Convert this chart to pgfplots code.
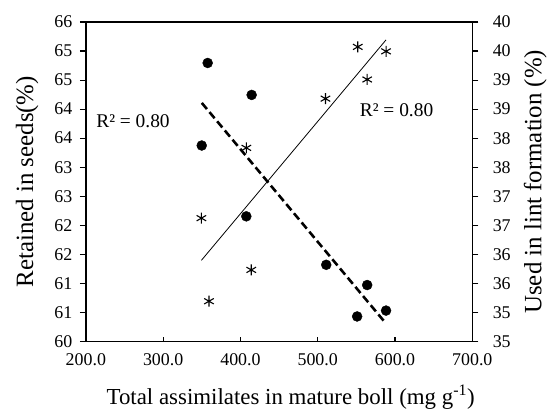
\documentclass[border=0pt]{standalone}
\usepackage{fontspec}
\setmainfont{Liberation Serif}
\usepackage{pgfplots}
\pgfplotsset{compat=1.18}

\pgfplotstableread{
x     y
357.6 65.23
414.5 64.63
349.9 63.68
407.6 62.35
511.0 61.44
564.0 61.06
551.0 60.47
588.4 60.58
}\seeds

\pgfplotstableread{
x     y
551.8 39.61
588.4 39.54
564.0 39.10
510.0 38.80
407.6 38.03
349.5 36.93
414.0 36.12
359.3 35.63
}\lint

\begin{document}
\begin{tikzpicture}
\pgfplotsset{
  every axis/.append style={
    scale only axis, width=387bp, height=320bp,
    xmin=200, xmax=700,
    font=\fontsize{18}{21}\selectfont,
    tick label style={font=\fontsize{18}{21}\selectfont},
    /pgf/number format/assume math mode=true,
    axis line style={line width=1.3pt},
    major tick style={line width=1.1pt, black},
    major tick length=6bp,
  }
}
% x axis and the left series
\begin{axis}[name=A,
  ymin=60, ymax=66,
  xtick={200,300,400,500,600,700},
  xticklabels={200.0,300.0,400.0,500.0,600.0,700.0},
  xticklabel style={yshift=-9bp},
  xtick pos=bottom, tick align=inside, major tick length=4bp,
  ytick=\empty,
  xlabel={Total assimilates in mature boll (mg g\textsuperscript{-1})},
  xlabel style={at={(axis description cs:0.53,-0.173)}, anchor=center, font=\fontsize{23}{26}\selectfont},
]
\addplot[only marks, mark=*, mark size=5bp, black] table[x=x, y=y] {\seeds};
\addplot[black, line width=2.6pt, dash pattern=on 8bp off 4bp] coordinates {(350,64.48) (587.6,60.35)};
\node[font=\fontsize{19.5}{22}\selectfont] at (axis cs:261,64.13) {R² = 0.80};
\node[font=\fontsize{19.5}{22}\selectfont] at (axis cs:602,64.35) {R² = 0.80};
\end{axis}
% left y axis
\begin{axis}[
  ymin=60, ymax=66,
  axis x line=none, axis y line*=left,
  tick align=outside,
  yticklabel style={xshift=-4bp},
  ytick={60,60.54545,61.09091,61.63636,62.18182,62.72727,63.27273,63.81818,64.36364,64.90909,65.45455,66},
  yticklabels={60,61,61,62,62,63,63,64,64,65,65,66},
  ylabel={Retained in seeds(\%)},
  ylabel style={at={(axis description cs:-0.152,0.5)}, anchor=center, font=\fontsize{25}{28}\selectfont},
]
\end{axis}
% right y axis and the right series
\begin{axis}[
  ymin=35, ymax=40,
  axis x line=none, axis y line*=right,
  tick align=outside,
  yticklabel style={xshift=11bp},
  ytick={35,35.45455,35.90909,36.36364,36.81818,37.27273,37.72727,38.18182,38.63636,39.09091,39.54545,40},
  yticklabels={35,35,36,36,37,37,38,38,39,39,40,40},
  ylabel={Used in lint formation (\%)},
  ylabel style={at={(axis description cs:1.163,0.5)}, anchor=center, font=\fontsize{25}{28}\selectfont},
]
\addplot[only marks, mark=asterisk, mark size=5.5bp, black, line width=1.1pt] table[x=x, y=y] {\lint};
\addplot[black, line width=0.8pt] coordinates {(349.5,36.27) (588.4,39.72)};
\end{axis}
\path ([xshift=-86bp,yshift=-67bp]A.south west) rectangle ([xshift=77bp,yshift=22bp]A.north east);
\end{tikzpicture}
\end{document}
